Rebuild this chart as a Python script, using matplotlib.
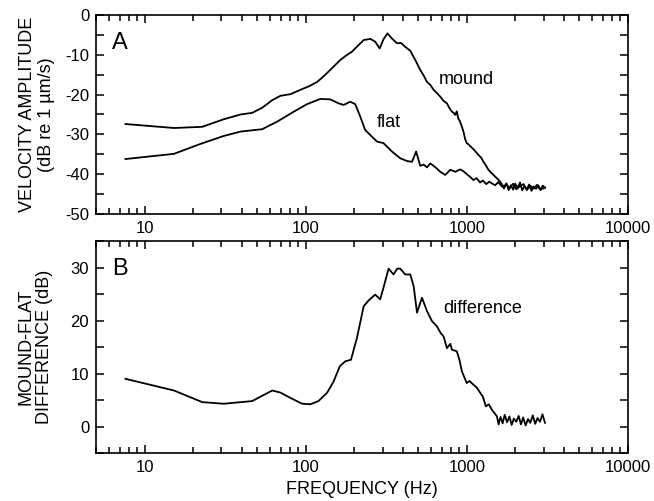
import matplotlib
matplotlib.use('Agg')

import matplotlib.pyplot as plt
from matplotlib.ticker import MultipleLocator, LogLocator, NullFormatter, FixedLocator, FixedFormatter

# panel A: mound curve (frequency in Hz, velocity in dB re 1 um/s)
mound_f = [7.6, 15.2, 22.8, 31, 39.4, 46.5, 53.7, 62, 69.7, 80.4, 92.7, 105, 118,
           130, 142, 153, 164, 178, 194, 210, 229, 252, 270, 288, 304, 322, 343,
           369, 390, 415, 446, 479, 514, 540, 566, 595, 622, 652, 684, 718, 753,
           780, 809, 830, 848, 867, 885, 905, 933, 955, 977, 1000, 1030, 1072, 1110,
           1150, 1183, 1225, 1270, 1315, 1362, 1430, 1500, 1555, 1610, 1650, 1700,
           1760, 1820, 1880, 1940, 2000, 2070, 2140, 2210, 2280, 2360, 2440, 2520,
           2600, 2690, 2780, 2870, 2960, 3060]
mound_db = [-27.4, -28.4, -28.1, -26.2, -25.0, -24.6, -23.3, -21.4, -20.3, -19.9,
            -18.8, -17.9, -16.8, -15.3, -13.8, -12.5, -11.3, -10.2, -9.2, -7.8,
            -6.3, -6.0, -6.7, -8.4, -6.1, -4.6, -5.9, -7.1, -7.0, -8.0, -9.0,
            -11.3, -13.8, -15.2, -16.8, -17.6, -18.8, -19.6, -20.5, -21.6, -22.2,
            -23.4, -24.3, -24.6, -25.1, -24.2, -26.0, -26.6, -28.1, -29.4, -31.2,
            -32.2, -32.6, -33.3, -33.9, -34.6, -35.2, -35.8, -36.9, -37.8, -38.9,
            -39.8, -40.6, -41.2, -41.9, -42.5, -43.6, -42.3, -44.0, -42.8, -43.9,
            -42.4, -43.5, -42.1, -44.1, -43.0, -43.8, -42.6, -44.2, -43.1, -43.7,
            -42.8, -44.0, -42.9, -43.4]

# panel A: flat curve
flat_f = [7.6, 15.2, 22.2, 31, 39.4, 53.7, 66.5, 84.3, 102, 123, 142, 160, 172,
          189, 203, 218, 234, 258, 277, 304, 343, 386, 425, 457, 485, 514, 540,
          566, 593, 622, 652, 684, 735, 790, 850, 910, 955, 1000, 1050, 1099, 1150,
          1210, 1260, 1320, 1380, 1429, 1500, 1570, 1650, 1770, 1850, 1940, 2030,
          2143, 2250, 2360, 2480, 2600, 2730, 2860, 3060]
flat_db = [-36.2, -34.9, -32.4, -30.4, -29.3, -28.7, -26.8, -24.3, -22.4, -21.1,
           -21.2, -22.2, -22.6, -21.8, -22.4, -25.5, -28.9, -30.6, -31.8, -32.2,
           -34.3, -36.0, -36.7, -36.9, -34.3, -37.9, -37.6, -38.3, -37.3, -37.9,
           -38.6, -39.4, -40.2, -38.9, -39.4, -38.8, -39.3, -40.0, -40.7, -41.5,
           -41.0, -42.1, -41.6, -42.5, -41.9, -42.3, -42.8, -42.0, -43.1, -42.7,
           -43.5, -42.4, -43.8, -43.0, -42.5, -44.0, -42.9, -43.6, -42.7, -43.9,
           -43.4]

# panel B: mound minus flat difference (dB)
diff_f = [7.6, 15.2, 22.8, 31, 46.5, 62, 69.7, 80.4, 95, 107, 120, 136, 149, 163,
          176, 191, 208, 229, 246, 270, 290, 304, 327, 351, 370, 386, 415, 446,
          468, 491, 527, 566, 608, 653, 690, 718, 753, 790, 809, 867, 900, 933,
          1000, 1040, 1099, 1150, 1210, 1260, 1313, 1370, 1429, 1480, 1540, 1576,
          1620, 1670, 1720, 1780, 1840, 1900, 1960, 2030, 2100, 2170, 2240, 2320,
          2400, 2480, 2570, 2660, 2750, 2850, 2950, 3060]
diff_db = [9.0, 6.8, 4.6, 4.3, 4.8, 6.8, 6.4, 5.4, 4.3, 4.2, 4.8, 6.4, 8.5, 11.4,
           12.3, 12.6, 16.7, 22.7, 23.8, 24.9, 24.0, 26.2, 29.8, 28.7, 29.8, 29.8,
           28.7, 28.7, 26.5, 21.5, 24.3, 21.8, 19.9, 18.9, 17.6, 17.0, 14.8, 15.6,
           14.5, 14.2, 12.6, 10.4, 8.2, 8.6, 7.9, 7.4, 6.4, 5.6, 3.8, 4.2, 3.2,
           2.6, 1.9, 0.4, 1.8, 0.6, 2.2, 0.8, 1.9, 0.3, 1.5, 0.9, 2.0, 0.4, 1.7,
           0.2, 1.4, 0.7, 2.1, 0.5, 1.6, 0.9, 2.3, 0.7]

plt.rcParams.update({'font.family': 'Liberation Sans',
                     'font.size': 12,
                     'axes.unicode_minus': False,
                     'axes.linewidth': 1.2})

fig = plt.figure(figsize=(6.54, 5.01), dpi=100)
ax_a = fig.add_axes([0.147, 0.573, 0.813, 0.397])
ax_b = fig.add_axes([0.147, 0.0958, 0.813, 0.423])


def style_axis(ax):
    ax.set_xscale('log')
    ax.set_xlim(5, 10000)
    ax.xaxis.set_major_locator(FixedLocator([10, 100, 1000, 10000]))
    ax.xaxis.set_major_formatter(FixedFormatter(['10', '100', '1000', '10000']))
    ax.xaxis.set_minor_locator(LogLocator(base=10, subs=range(2, 10)))
    ax.xaxis.set_minor_formatter(NullFormatter())
    ax.yaxis.set_major_locator(MultipleLocator(10))
    ax.yaxis.set_minor_locator(MultipleLocator(5))
    ax.tick_params(which='both', direction='in', top=True, right=True,
                   width=1.1, labelsize=12)
    ax.tick_params(which='major', length=6, pad=5)
    ax.tick_params(axis='x', which='minor', length=4)
    ax.tick_params(axis='y', which='minor', length=6)


style_axis(ax_a)
ax_a.plot(mound_f, mound_db, color='black', linewidth=1.3)
ax_a.plot(flat_f, flat_db, color='black', linewidth=1.3)
ax_a.set_ylim(-50, 0)
ax_a.text(0.045, 0.86, 'A', transform=ax_a.transAxes, fontsize=17,
          ha='center', va='center')
ax_a.text(1000, -16.1, 'mound', fontsize=13, ha='center', va='center')
ax_a.text(326, -26.9, 'flat', fontsize=13, ha='center', va='center')

style_axis(ax_b)
ax_b.plot(diff_f, diff_db, color='black', linewidth=1.3)
ax_b.set_ylim(-5, 35)
ax_b.text(0.045, 0.87, 'B', transform=ax_b.transAxes, fontsize=17,
          ha='center', va='center')
ax_b.text(1260, 22.3, 'difference', fontsize=13, ha='center', va='center')

fig.text(37 / 654, 1 - 114.5 / 501, 'VELOCITY AMPLITUDE\n(dB re 1 \u00b5m/s)',
         rotation=90, ha='center', va='center', fontsize=13, linespacing=1.1)
fig.text(35 / 654, 1 - 347 / 501, 'MOUND-FLAT\nDIFFERENCE (dB)',
         rotation=90, ha='center', va='center', fontsize=13, linespacing=1.1)
fig.text(362 / 654, 1 - 490 / 501, 'FREQUENCY (Hz)', ha='center', va='center',
         fontsize=13)

fig.savefig('out.png', dpi=100)
plt.close(fig)
